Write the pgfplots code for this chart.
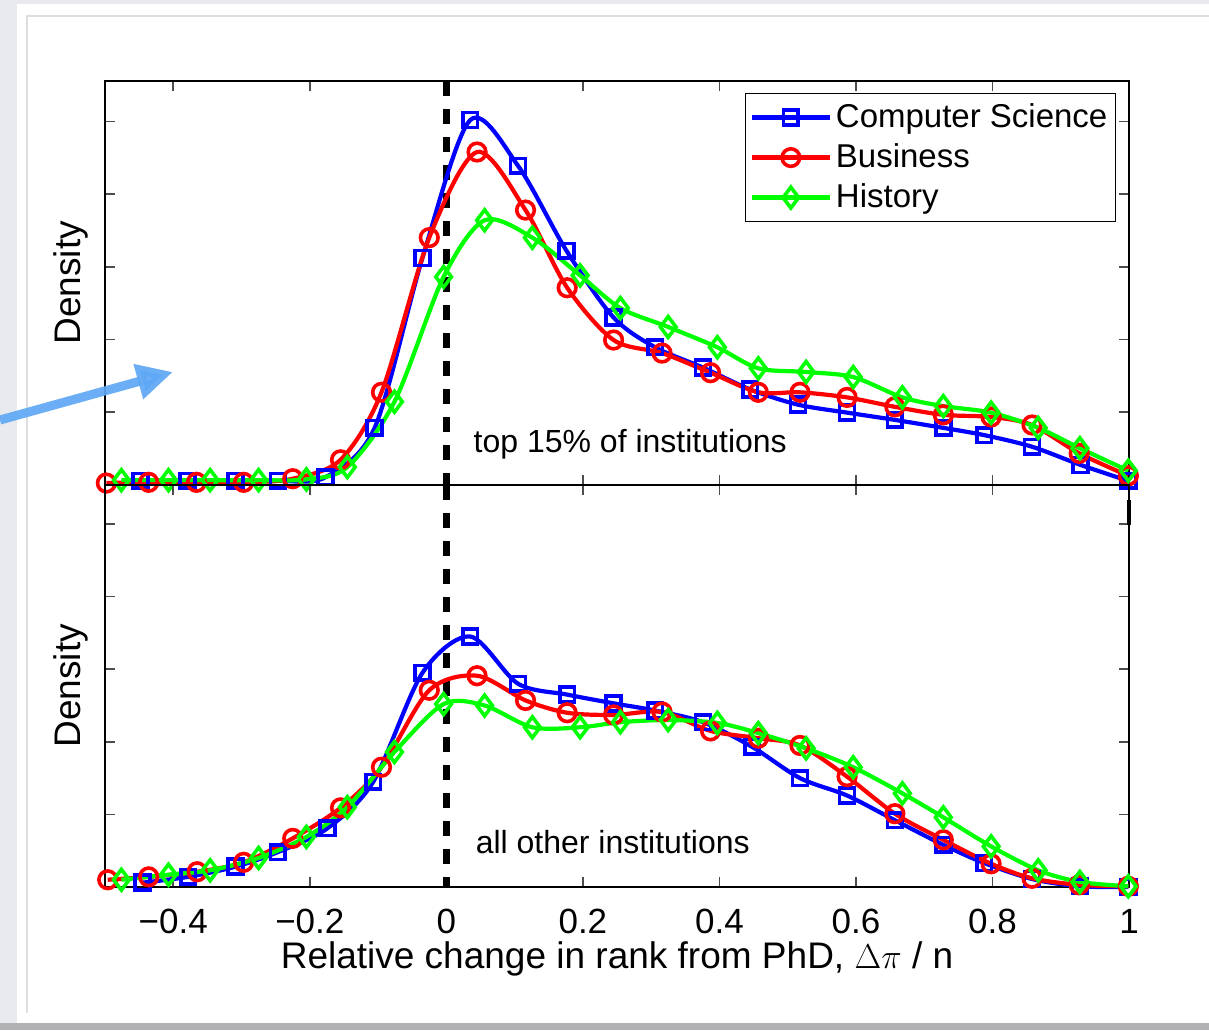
\documentclass[border=0pt]{standalone}
\usepackage{fontspec}
\setmainfont{Liberation Sans}
\usepackage{pgfplots}
\usepackage{pgfplotstable}
\pgfplotsset{compat=1.18}
\usetikzlibrary{arrows.meta}
\definecolor{mblue}{RGB}{0,0,255}
\definecolor{mred}{RGB}{255,0,0}
\definecolor{mgreen}{RGB}{0,255,0}
\definecolor{arrowblue}{RGB}{95,168,245}
\definecolor{framegray}{RGB}{232,234,238}
\definecolor{shadowgray}{RGB}{178,178,180}
\definecolor{innerline}{RGB}{222,222,224}

\pgfplotstableread{
x y
-0.448 0.05
-0.379 0.05
-0.309 0.05
-0.247 0.05
-0.177 0.10
-0.105 0.78
-0.035 3.12
0.035 5.02
0.105 4.39
0.176 3.22
0.245 2.30
0.306 1.89
0.376 1.61
0.445 1.31
0.515 1.10
0.587 0.99
0.657 0.89
0.728 0.78
0.788 0.68
0.858 0.52
0.929 0.27
0.999 0.05
}\topcs
\pgfplotstableread{
x y
-0.498 0.02
-0.436 0.03
-0.366 0.03
-0.297 0.03
-0.225 0.08
-0.155 0.34
-0.095 1.27
-0.025 3.40
0.045 4.58
0.116 3.78
0.177 2.71
0.245 1.99
0.316 1.81
0.387 1.54
0.457 1.27
0.518 1.27
0.587 1.20
0.657 1.07
0.728 0.96
0.798 0.93
0.858 0.82
0.927 0.43
0.999 0.12
}\topbus
\pgfplotstableread{
x y
-0.476 0.06
-0.407 0.06
-0.346 0.06
-0.275 0.06
-0.205 0.07
-0.145 0.24
-0.076 1.14
-0.004 2.86
0.056 3.64
0.126 3.40
0.196 2.88
0.255 2.43
0.325 2.17
0.397 1.89
0.457 1.60
0.527 1.55
0.596 1.48
0.668 1.20
0.728 1.08
0.798 0.99
0.867 0.78
0.928 0.50
0.999 0.19
}\tophis
\pgfplotstableread{
x y
-0.445 0.06
-0.378 0.14
-0.309 0.28
-0.247 0.48
-0.174 0.81
-0.107 1.45
-0.035 2.95
0.035 3.45
0.105 2.80
0.177 2.65
0.245 2.53
0.306 2.43
0.376 2.27
0.448 1.93
0.518 1.50
0.587 1.26
0.657 0.92
0.728 0.58
0.788 0.33
0.858 0.11
0.928 0.01
0.999 0.00
}\botcs
\pgfplotstableread{
x y
-0.496 0.10
-0.436 0.14
-0.365 0.21
-0.297 0.34
-0.225 0.67
-0.155 1.09
-0.095 1.65
-0.025 2.71
0.045 2.91
0.116 2.57
0.177 2.40
0.245 2.37
0.316 2.41
0.387 2.15
0.457 2.05
0.518 1.95
0.587 1.52
0.657 1.01
0.728 0.65
0.798 0.32
0.858 0.12
0.927 0.03
0.999 0.01
}\botbus
\pgfplotstableread{
x y
-0.476 0.10
-0.407 0.17
-0.346 0.23
-0.275 0.40
-0.205 0.69
-0.145 1.10
-0.076 1.86
-0.004 2.52
0.056 2.50
0.126 2.20
0.196 2.20
0.255 2.27
0.325 2.30
0.397 2.26
0.457 2.12
0.527 1.91
0.596 1.65
0.668 1.29
0.728 0.96
0.798 0.56
0.867 0.23
0.928 0.07
0.999 0.01
}\bothis

\pgfplotsset{
  panel/.style={
    scale only axis,
    width=512pt,
    xmin=-0.5, xmax=1,
    ymin=0,
    xtick={-0.4,-0.2,0,0.2,0.4,0.6,0.8,1},
    ytick={1,2,3,4,5},
    yticklabels={},
    tick align=inside,
    tick pos=both,
    major tick length=5pt,
    major tick style={line width=0.8pt, color=black!70},
    axis line style={line width=1pt, black},
    clip=false,
    legend image code/.code={%
      \draw[mark repeat=2,mark phase=2] plot coordinates {(0pt,0pt) (19.5pt,0pt) (39pt,0pt)};},
  },
  cs/.style={mblue, line width=2.1pt, smooth, mark=square, mark size=3.7pt,
    mark options={solid, fill=white, line width=1.8pt}},
  bus/.style={mred, line width=2.1pt, smooth, mark=o, mark size=4.4pt,
    mark options={solid, fill=white, line width=1.8pt}},
  his/.style={mgreen, line width=2.1pt, smooth, mark=diamond, mark size=5.2pt,
    mark options={solid, fill=white, line width=1.8pt}},
  zeroline/.style={black, line width=3.2pt, dash pattern=on 7.5pt off 6.5pt, forget plot},
}

\begin{document}
\begin{tikzpicture}
% screenshot frame
\fill[framegray] (0pt,0pt) rectangle (604.5pt,515pt);
\useasboundingbox (0pt,0pt) rectangle (604.5pt,515pt);
\fill[shadowgray] (0pt,0pt) rectangle (604.5pt,3.5pt);
\fill[white] (8.5pt,3.5pt) rectangle (604.5pt,513pt);
\draw[innerline, line width=0.7pt] (604.5pt,507pt) -- (13.5pt,507pt) -- (13.5pt,8.5pt);

% top panel
\begin{axis}[panel,
  at={(52.5pt,272.75pt)}, anchor=south west,
  height=201.75pt, ymax=5.558,
  xticklabels={},
  ylabel={Density},
  ylabel style={at={(axis description cs:-0.0244,0.5)}, anchor=base,
    font=\fontsize{18.5pt}{22pt}\selectfont},
  legend style={at={(axis description cs:0.9873,0.9703)}, anchor=north east,
    draw=black, line width=0.6pt, inner sep=2pt,
    font=\fontsize{16.5pt}{20pt}\selectfont,
    nodes={inner sep=2pt, text height=13pt, text depth=3pt},
    row sep=0pt},
  legend cell align=left,
]
\addplot[zeroline] coordinates {(0,5.558) (0,0)};
\addplot[cs] table {\topcs};
\addlegendentry{Computer Science}
\addplot[bus] table {\topbus};
\addlegendentry{Business}
\addplot[his] table {\tophis};
\addlegendentry{History}
\node[anchor=base west, font=\fontsize{16pt}{19pt}\selectfont, inner sep=0pt]
  at (axis cs:0.0395,0.434) {top 15\% of institutions};
\end{axis}

% bottom panel
\begin{axis}[panel,
  at={(52.5pt,71.5pt)}, anchor=south west,
  height=201.25pt, ymax=5.544,
  xticklabels={−0.4,−0.2,0,0.2,0.4,0.6,0.8,1},
  xticklabel style={anchor=base, yshift=-23pt, inner sep=0pt,
    font=\fontsize{17.5pt}{20pt}\selectfont},
  xlabel={Relative change in rank from PhD, $\Delta\pi$ / n},
  xlabel style={at={(axis description cs:0.5,-0.2035)}, anchor=base, inner sep=0pt,
    font=\fontsize{18.5pt}{22pt}\selectfont},
  ylabel={Density},
  ylabel style={at={(axis description cs:-0.0244,0.5)}, anchor=base,
    font=\fontsize{18.5pt}{22pt}\selectfont},
]
\addplot[zeroline] coordinates {(0,5.544) (0,0)};
\addplot[cs] table {\botcs};
\addplot[bus] table {\botbus};
\addplot[his] table {\bothis};
\addplot[black, line width=1.6pt, forget plot] coordinates {(1,5.33) (1,4.99)};
\node[anchor=base west, font=\fontsize{16pt}{19pt}\selectfont, inner sep=0pt]
  at (axis cs:0.0425,0.455) {all other institutions};
\end{axis}

% annotation arrow
\draw[arrowblue, opacity=0.92, line width=4.5pt,
  -{Triangle[length=18pt, width=17pt]}] (0pt,305pt) -- (86.5pt,329pt);
\end{tikzpicture}
\end{document}
